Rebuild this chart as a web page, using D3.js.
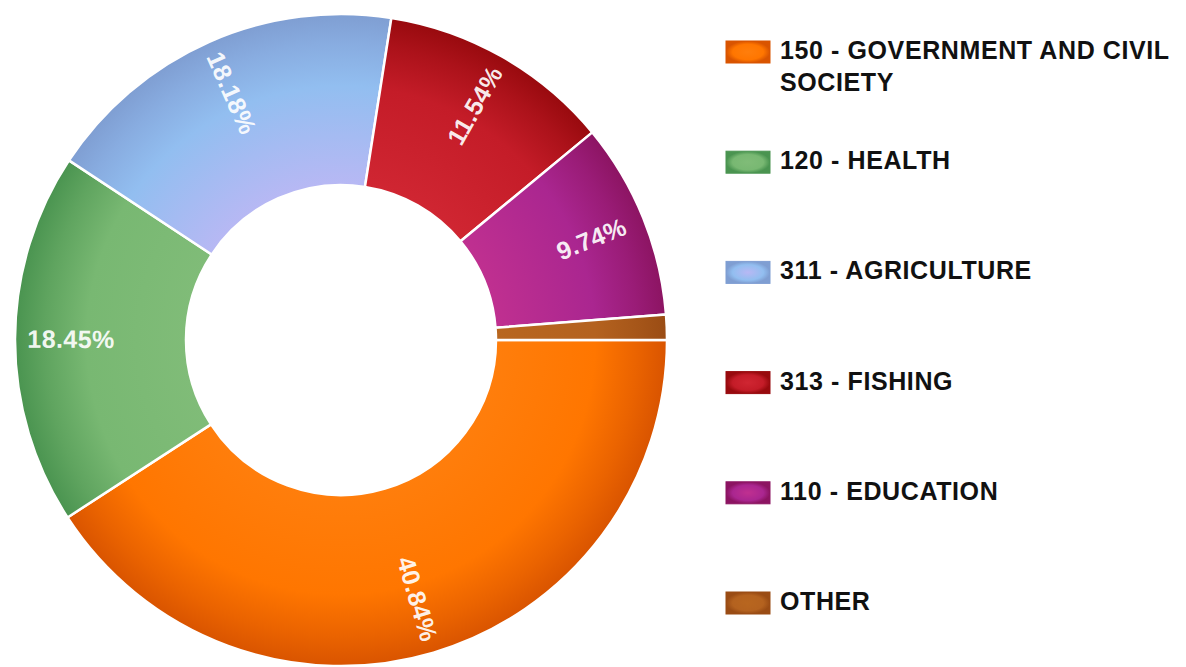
<!DOCTYPE html>
<html>
<head>
<meta charset="utf-8">
<script src="https://cdn.jsdelivr.net/npm/d3@7/dist/d3.min.js"></script>
<style>
  html, body { margin: 0; padding: 0; background: #fff; }
  svg { display: block; }
</style>
</head>
<body>
<svg id="chart" width="1186" height="667"></svg>
<script>
// ---- data ----
const categories = ["150 - GOVERNMENT AND CIVIL SOCIETY", "120 - HEALTH", "311 - AGRICULTURE", "313 - FISHING", "110 - EDUCATION", "OTHER"];
const values = [40.84, 18.45, 18.18, 11.54, 9.74, 1.25];
const valueLabels = ["40.84%", "18.45%", "18.18%", "11.54%", "9.74%", ""];
const baseColors = ["#ff7600", "#78b872", "#92bef0", "#c41c28", "#aa2690", "#b4621f"];
const innerColors = ["#ff7e0c", "#80bc78", "#b8b8f4", "#d02632", "#c03090", "#b8661f"];
const rimColors = ["#d95400", "#4a9450", "#7f9ed2", "#980a0e", "#8c1462", "#9a4c14"];

// ---- layout ----
const svg = d3.select("#chart");
const cx = 341, cy = 340, R = 326, r0 = 155, labelR = 270;

const defs = svg.append("defs");
categories.forEach((c, i) => {
  const g = defs.append("radialGradient")
    .attr("id", "grad" + i)
    .attr("gradientUnits", "userSpaceOnUse")
    .attr("cx", 0).attr("cy", 0).attr("r", R)
    .attr("fx", 0).attr("fy", 0);
  g.append("stop").attr("offset", 0.47).attr("stop-color", innerColors[i]);
  g.append("stop").attr("offset", 0.78).attr("stop-color", baseColors[i]);
  g.append("stop").attr("offset", 0.91).attr("stop-color", d3.interpolateRgb(baseColors[i], rimColors[i])(0.55));
  g.append("stop").attr("offset", 1.0).attr("stop-color", rimColors[i]);

  const lg = defs.append("radialGradient").attr("id", "lgrad" + i);
  lg.append("stop").attr("offset", 0).attr("stop-color", innerColors[i]);
  lg.append("stop").attr("offset", 0.7).attr("stop-color", baseColors[i]);
  lg.append("stop").attr("offset", 1).attr("stop-color", rimColors[i]);
});

const pie = d3.pie().sort(null).value(d => d)
  .startAngle(Math.PI / 2).endAngle(Math.PI / 2 + 2 * Math.PI);
const arcs = pie(values);
const arc = d3.arc().innerRadius(r0).outerRadius(R);

const g = svg.append("g").attr("transform", `translate(${cx},${cy})`);
g.selectAll("path.slice").data(arcs).enter().append("path")
  .attr("class", "slice")
  .attr("d", arc)
  .attr("fill", (d, i) => `url(#grad${i})`)
  .attr("stroke", "#fff")
  .attr("stroke-width", 2.5)
  .attr("stroke-linejoin", "round");

// slice labels
arcs.forEach((d, i) => {
  if (!valueLabels[i]) return;
  const mid = (d.startAngle + d.endAngle) / 2;
  const x = Math.sin(mid) * labelR;
  const y = -Math.cos(mid) * labelR;
  let deg = mid * 180 / Math.PI;
  deg = ((deg % 360) + 360) % 360;
  const rot = deg <= 180 ? deg - 90 : deg - 270;
  g.append("text")
    .attr("transform", `translate(${x},${y}) rotate(${rot})`)
    .attr("text-anchor", "middle")
    .attr("dy", "0.36em")
    .attr("font-family", "'Liberation Sans', Arial, sans-serif")
    .attr("font-weight", "bold")
    .attr("font-size", 25)
    .attr("letter-spacing", "0.4px")
    .attr("fill", "#ffffff")
    .attr("fill-opacity", 0.93)
    .text(valueLabels[i]);
});

// legend
const legendY = d3.scalePoint().domain(categories).range([52, 603]);
const legX = 726, swW = 44, swH = 22, textX = 780, maxW = 405;
const leg = svg.append("g");
categories.forEach((c, i) => {
  const yc = legendY(c);
  leg.append("rect")
    .attr("x", legX).attr("y", yc - swH / 2)
    .attr("width", swW).attr("height", swH)
    .attr("fill", `url(#lgrad${i})`)
    .attr("stroke", rimColors[i]).attr("stroke-width", 1);
  const t = leg.append("text")
    .attr("x", textX).attr("y", yc + 7)
    .attr("font-family", "'Liberation Sans', Arial, sans-serif")
    .attr("font-weight", "bold")
    .attr("font-size", 25)
    .attr("letter-spacing", "0.6px")
    .attr("fill", "#111");
  const words = c.split(" ");
  let line = [];
  let tspan = t.append("tspan").attr("x", textX);
  words.forEach(w => {
    line.push(w);
    tspan.text(line.join(" "));
    if (tspan.node().getComputedTextLength() > maxW && line.length > 1) {
      line.pop();
      tspan.text(line.join(" "));
      line = [w];
      tspan = t.append("tspan").attr("x", textX).attr("dy", 32).text(w);
    }
  });
});
</script>
</body>
</html>
